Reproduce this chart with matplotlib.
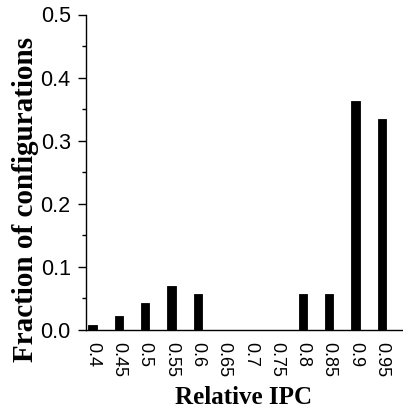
import matplotlib
matplotlib.use("Agg")
import matplotlib.pyplot as plt
from matplotlib.ticker import MultipleLocator

categories = ["0.4", "0.45", "0.5", "0.55", "0.6", "0.65", "0.7", "0.75",
              "0.8", "0.85", "0.9", "0.95"]
fractions = [0.007, 0.022, 0.042, 0.069, 0.056, 0.0, 0.0, 0.0,
             0.056, 0.056, 0.362, 0.334]

W, H = 403, 413
fig = plt.figure(figsize=(W / 100, H / 100), dpi=100)
ax = fig.add_axes([86 / W, 1 - 329.7 / H, 1 - 86 / W, (329.7 - 14.5) / H])

x = list(range(len(categories)))
ax.bar(x, fractions, width=0.32, color="black", edgecolor="black", linewidth=0.6)

ax.set_xlim(-0.25, 11.81)
ax.set_ylim(0, 0.5)
ax.set_xticks(x)
ax.set_xticklabels(categories, rotation=-90, fontsize=13, family="Liberation Sans")
ax.tick_params(axis="x", length=0, pad=9)
ax.yaxis.set_major_locator(MultipleLocator(0.1))
ax.yaxis.set_minor_locator(MultipleLocator(0.05))
ax.set_yticks([0.0, 0.1, 0.2, 0.3, 0.4, 0.5])
ax.set_yticklabels(["0.0", "0.1", "0.2", "0.3", "0.4", "0.5"], fontsize=15.5,
                   family="Liberation Sans")
ax.tick_params(axis="y", which="major", length=6, width=1, direction="out", pad=5)
ax.tick_params(axis="y", which="minor", length=3, width=1, direction="out")

for s in ["top", "right"]:
    ax.spines[s].set_visible(False)
for s in ["left", "bottom"]:
    ax.spines[s].set_linewidth(1)

fig.text(26 / W, 1 - 199 / H, "Fraction of configurations", rotation=90,
         ha="center", va="center", fontsize=21, fontweight="bold",
         family="Liberation Serif")
fig.text(244 / W, 1 - 398 / H, "Relative IPC", ha="center", va="center",
         fontsize=18, fontweight="bold", family="Liberation Serif")

fig.savefig("out.png", dpi=100)
